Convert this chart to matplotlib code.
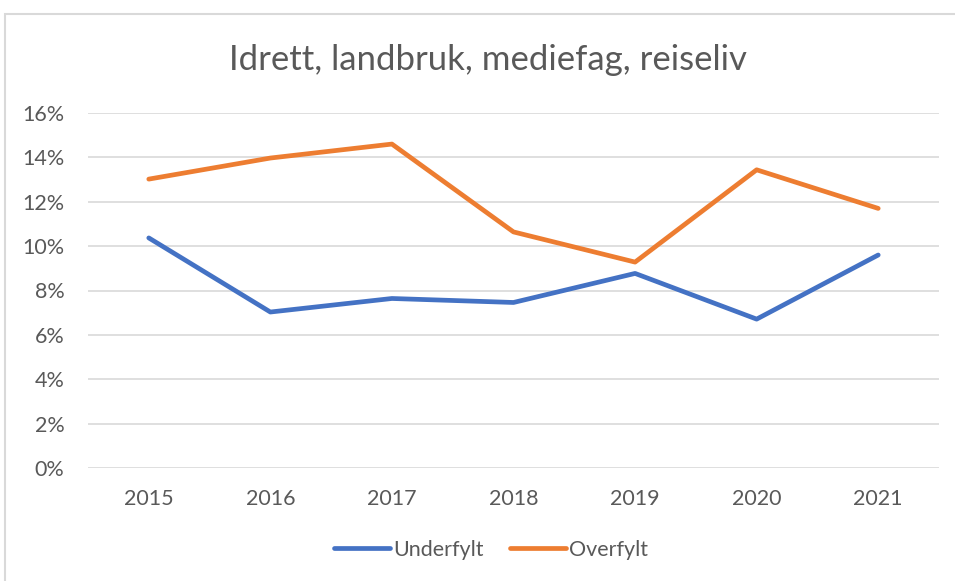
import matplotlib
matplotlib.use('Agg')
import matplotlib.pyplot as plt
from matplotlib.patches import Rectangle
from matplotlib.ticker import FuncFormatter

years = ['2015', '2016', '2017', '2018', '2019', '2020', '2021']
underfylt = [10.37, 7.03, 7.64, 7.46, 8.77, 6.71, 9.60]
overfylt = [13.02, 13.97, 14.60, 10.64, 9.28, 13.44, 11.70]

plt.rcParams['font.family'] = ['Lato', 'DejaVu Sans']
text_color = '#595959'

fig = plt.figure(figsize=(9.55, 5.81), dpi=100)
ax = fig.add_axes([88 / 955, 113 / 581, 851 / 955, 355 / 581])

# chart frame like the spreadsheet export
fig.patches.append(Rectangle((5 / 955, -0.05), 1.1, (581 - 14) / 581 + 0.05,
                             transform=fig.transFigure, fill=False,
                             edgecolor='#d9d9d9', linewidth=1.5))

x = range(len(years))
ax.plot(x, underfylt, color='#4472C4', linewidth=3.4, solid_capstyle='round', label='Underfylt')
ax.plot(x, overfylt, color='#ED7D31', linewidth=3.4, solid_capstyle='round', label='Overfylt')

ax.set_xlim(-0.5, len(years) - 0.5)
ax.set_ylim(0, 16)
ax.set_yticks(range(0, 17, 2))
ax.yaxis.set_major_formatter(FuncFormatter(lambda v, p: f'{v:.0f}%'))
ax.set_xticks(list(x))
ax.set_xticklabels(years)
ax.grid(axis='y', color='#d9d9d9', linewidth=1.2)
ax.set_axisbelow(True)
for s in ax.spines.values():
    s.set_visible(False)
ax.tick_params(length=0, labelsize=15.5, colors=text_color, pad=15)
ax.tick_params(axis='y', pad=17)

fig.text(488 / 955, 1 - 60 / 581, 'Idrett, landbruk, mediefag, reiseliv',
         ha='center', va='center', fontsize=25, color=text_color)

leg = fig.legend(loc='center', bbox_to_anchor=(491 / 955, 1 - 550 / 581), ncol=2,
                 frameon=False, fontsize=15.5, handlelength=2.6, handletextpad=0.15,
                 columnspacing=1.2)
for t in leg.get_texts():
    t.set_color(text_color)

fig.savefig('out.png', dpi=100)
